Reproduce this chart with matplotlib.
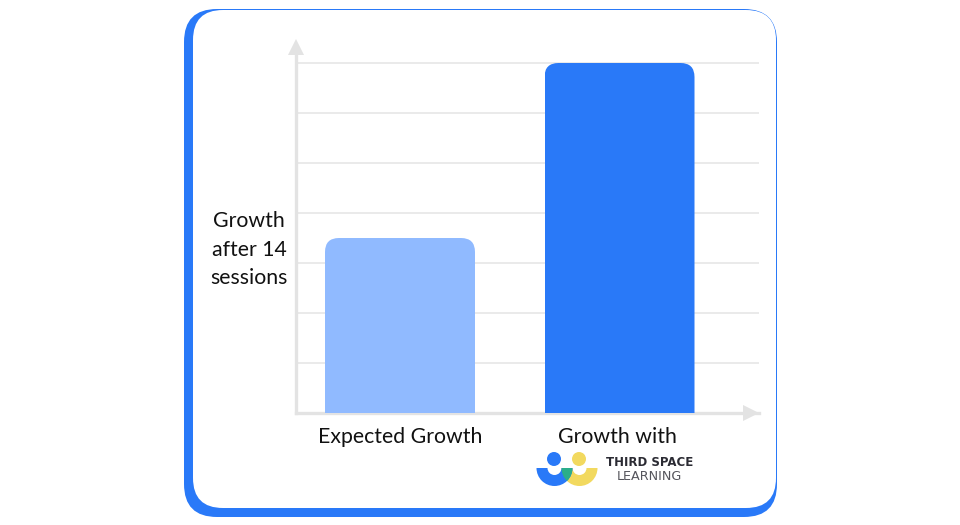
import matplotlib
matplotlib.use("Agg")
import matplotlib.pyplot as plt
from matplotlib.patches import Circle, FancyBboxPatch, Wedge
from matplotlib.transforms import IdentityTransform, ScaledTranslation

categories = ["Expected Growth", "Growth with"]
values = [3.5, 7]
bar_colors = ["#90BAFF", "#2979F8"]
y_ticks = [1, 2, 3, 4, 5, 6, 7]

BLUE = "#2979F8"
YELLOW = "#F2D95F"
GREEN = "#2BAE8A"
GREY = "#E3E3E3"
INK = "#111111"

plt.rcParams["font.family"] = ["Lato", "DejaVu Sans"]

fig = plt.figure(figsize=(9.6, 5.25), dpi=100)

# background layer in pixels, y going down like the image
bg = fig.add_axes([0, 0, 1, 1], zorder=0)
bg.set_xlim(0, 960)
bg.set_ylim(525, 0)
bg.axis("off")


def card(x0, y0, x1, y1, r, color):
    bg.add_patch(FancyBboxPatch((x0 + r, y0 + r), x1 - x0 - 2 * r, y1 - y0 - 2 * r,
                                boxstyle=f"round,pad={r},rounding_size={r}",
                                fc=color, ec="none"))


card(184, 9, 777, 517, 33, BLUE)
card(193, 10, 776, 508, 30, "white")

# chart, one y unit is 50 px and one category step is 219.5 px
left, right, bottom, top = 296, 759, 413, 47
ax = fig.add_axes([left / 960, 1 - bottom / 525, (right - left) / 960, (bottom - top) / 525], zorder=1)
ax.patch.set_visible(False)
ax.set_xlim((left - 400) / 219.5, (right - 400) / 219.5)
ax.set_ylim(0, (bottom - top) / 50)
ax.set_yticks(y_ticks)
ax.set_yticklabels([])
ax.set_xticks(range(len(categories)))
ax.set_xticklabels(categories, fontsize=15.3, color=INK)
ax.tick_params(length=0, pad=10)
ax.grid(axis="y", color="#E6E6E6", lw=1.2)
ax.set_axisbelow(True)
for s in ["top", "right"]:
    ax.spines[s].set_visible(False)
for s in ["left", "bottom"]:
    ax.spines[s].set_color(GREY)
    ax.spines[s].set_linewidth(2.4)

# second label sits a little left of its bar in the original
lab = ax.get_xticklabels()[1]
lab.set_transform(lab.get_transform() + ScaledTranslation(-1.8 / 72, 0, fig.dpi_scale_trans))

bars = ax.bar(range(len(categories)), values, width=150 / 219.5, color=bar_colors, zorder=3)

# round the top corners of the bars
fig.canvas.draw()
for b in bars:
    ext = b.get_window_extent()
    clip = FancyBboxPatch((ext.x0 + 14, ext.y0 - 30), ext.width - 28, ext.height + 16,
                          boxstyle="round,pad=14,rounding_size=14",
                          transform=IdentityTransform(), fc="none", ec="none")
    b.set_clip_path(clip)

# axis arrow heads
ax.plot(0, 1, "^", ms=11, mew=0, color=GREY, transform=ax.transAxes, clip_on=False, zorder=4)
ax.plot((750.5 - left) / (right - left), 0, ">", ms=11, mew=0, color=GREY, transform=ax.transAxes,
        clip_on=False, zorder=4)

bg.text(249, 249.5, "Growth\nafter 14\nsessions", ha="center", va="center", fontsize=15.3,
        color=INK, linespacing=1.52)

# logo
bg.add_patch(Circle((554, 459), 7, fc=BLUE, ec="none"))
bg.add_patch(Circle((579, 459), 7, fc=YELLOW, ec="none"))
blue_arc = Wedge((554.5, 468), 18, 0, 180, width=11, fc=BLUE, ec="none")
yellow_arc = Wedge((579.5, 468), 18, 0, 180, width=11, fc=YELLOW, ec="none")
bg.add_patch(yellow_arc)
bg.add_patch(blue_arc)
overlap = Wedge((554.5, 468), 18, 0, 180, width=11, fc=GREEN, ec="none")
bg.add_patch(overlap)
overlap.set_clip_path(yellow_arc)

bg.text(649.5, 462.5, "THIRD SPACE", ha="center", va="center", fontsize=8.5, fontweight="bold",
        family="DejaVu Sans", color="#2B2B33")
bg.text(649, 476.5, "LEARNING", ha="center", va="center", fontsize=9.2,
        family="DejaVu Sans", color="#55555C")

fig.savefig("out.png", dpi=100)
